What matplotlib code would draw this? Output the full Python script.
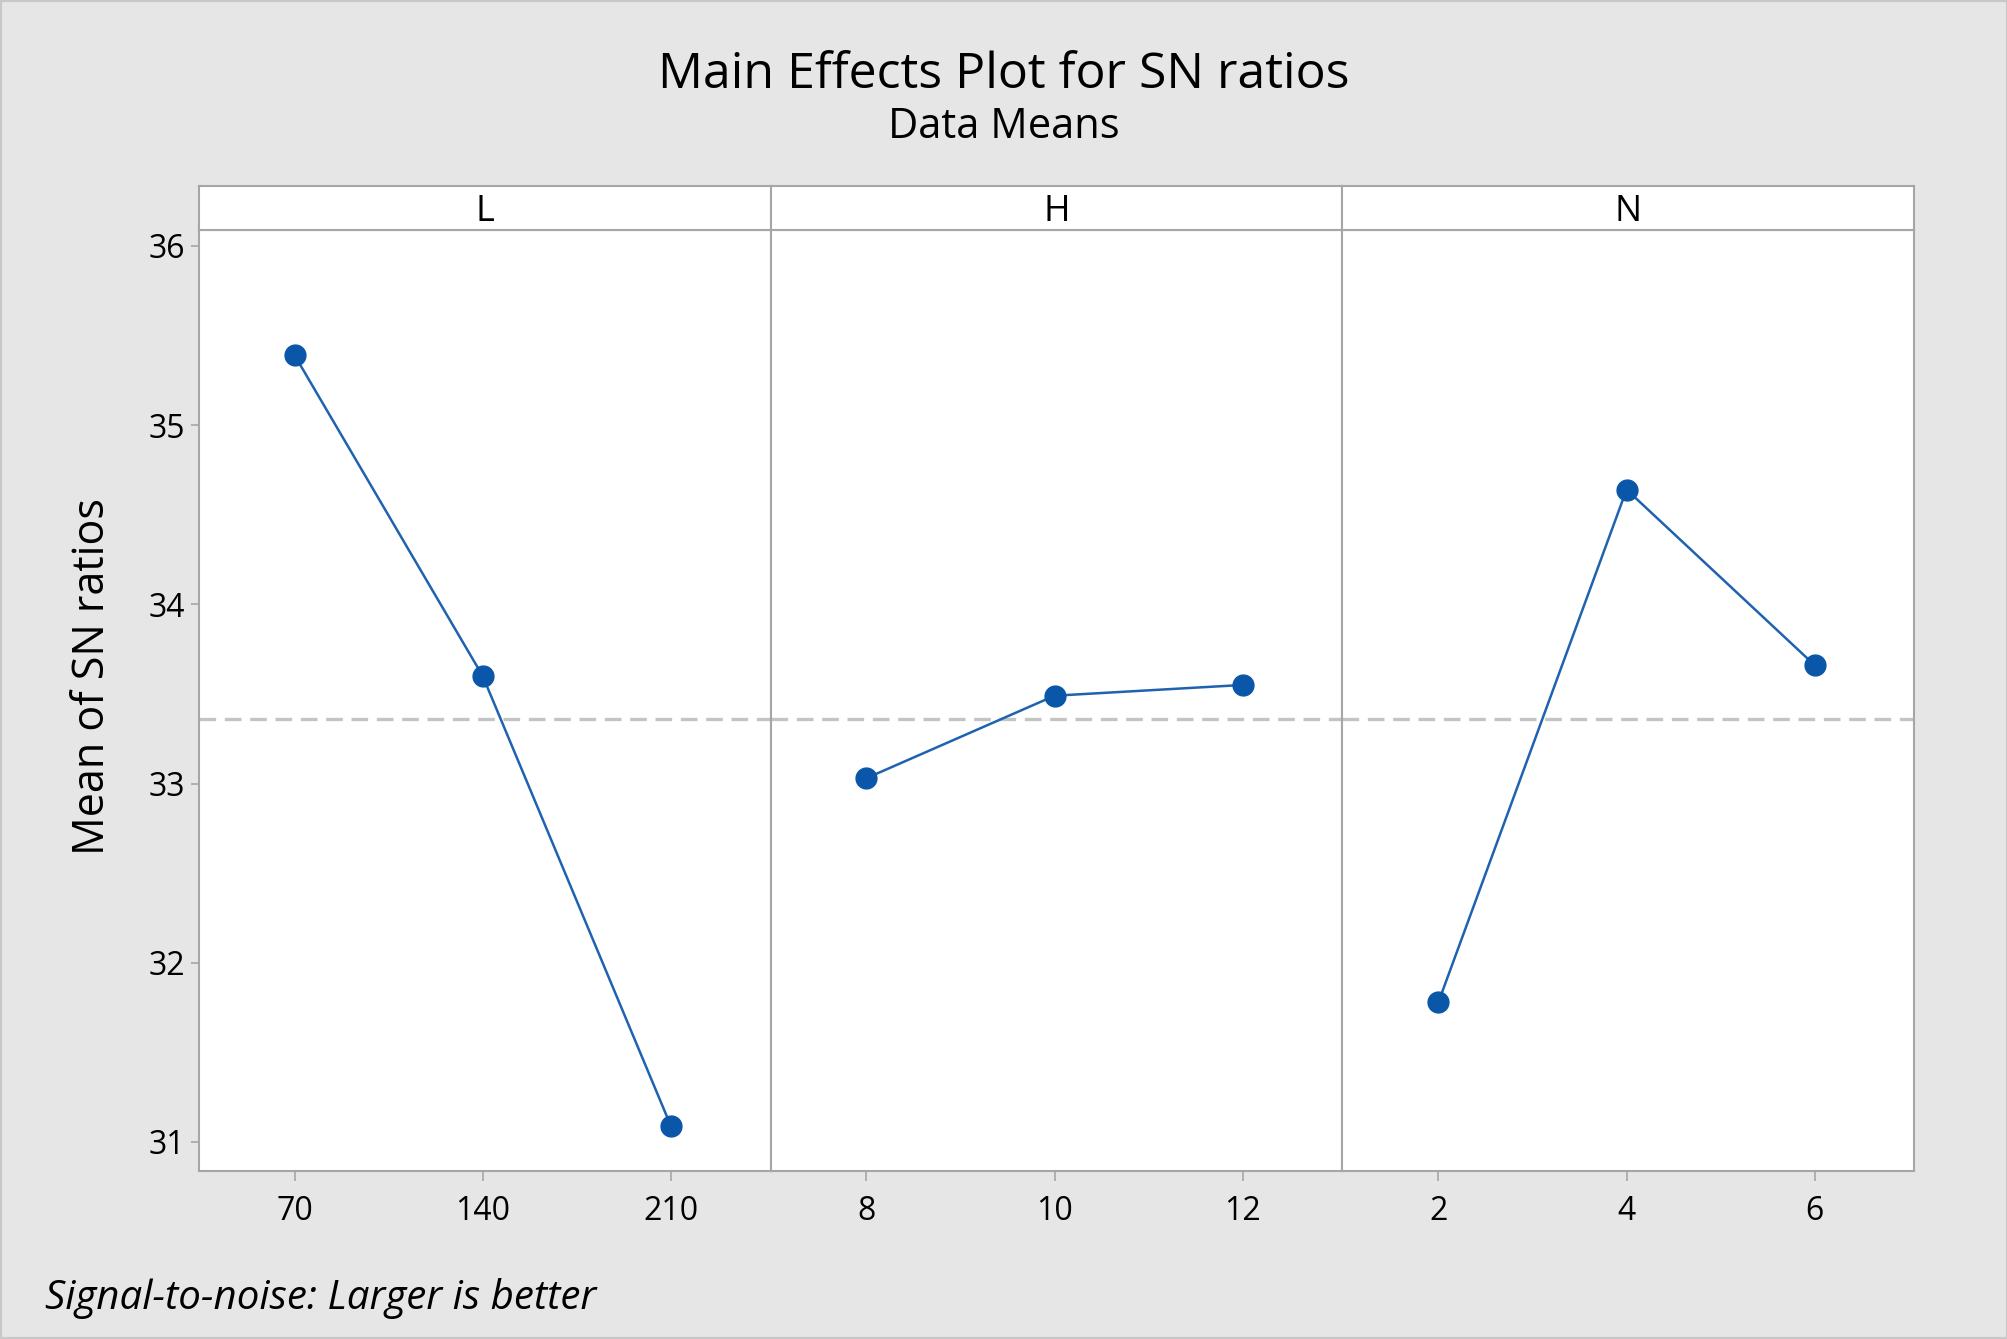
import matplotlib
matplotlib.use("Agg")
import matplotlib.pyplot as plt
from matplotlib.patches import Rectangle

# ---- data ----
factors = ["L", "H", "N"]
levels = [["70", "140", "210"], ["8", "10", "12"], ["2", "4", "6"]]
sn_means = [[35.39, 33.60, 31.09], [33.03, 33.49, 33.55], [31.78, 34.64, 33.66]]
overall_mean = 33.36
y_ticks = [31, 32, 33, 34, 35, 36]

title = "Main Effects Plot for SN ratios"
subtitle = "Data Means"
ylabel = "Mean of SN ratios"
footnote = "Signal-to-noise: Larger is better"

# ---- style ----
plt.rcParams['font.family'] = ['Open Sans', 'DejaVu Sans']
bg = "#E6E6E6"
blue = "#0A56A8"
line_blue = "#1F62B0"
spine_c = "#A6A6A6"

fig = plt.figure(figsize=(20.08, 13.39), dpi=100, facecolor=bg)

left, right = 0.0989, 0.9534
bottom, top_plot, top_head = 0.1252, 0.8279, 0.8614
w = (right - left) / 3

for i, fac in enumerate(factors):
    ax = fig.add_axes([left + i * w, bottom, w, top_plot - bottom])
    ax.set_facecolor("white")
    xs = list(range(len(levels[i])))
    ax.axhline(overall_mean, color="#C4C4C4", lw=2.4, ls=(0, (5, 2.6)), zorder=1)
    ax.plot(xs, sn_means[i], color=line_blue, lw=1.8, zorder=2)
    ax.plot(xs, sn_means[i], ls="none", marker="o", ms=15,
            markerfacecolor=blue, markeredgecolor=blue, zorder=3)
    ax.set_xlim(-0.51, 2.53)
    ax.set_ylim(30.836, 36.086)
    ax.set_xticks(xs)
    ax.set_xticklabels(levels[i])
    ax.tick_params(axis="x", length=7, width=1.2, color=spine_c, pad=10,
                   labelsize=23)
    if i == 0:
        ax.set_yticks(y_ticks)
        ax.tick_params(axis="y", length=6, width=1.2, color=spine_c, pad=4,
                       labelsize=23)
    else:
        ax.set_yticks([])
    for s in ax.spines.values():
        s.set_color(spine_c)
        s.set_linewidth(1.5)

    hax = fig.add_axes([left + i * w, top_plot, w, top_head - top_plot])
    hax.set_facecolor("white")
    hax.set_xticks([])
    hax.set_yticks([])
    for s in hax.spines.values():
        s.set_color(spine_c)
        s.set_linewidth(1.5)
    hax.text(0.5, 0.42, fac, ha="center", va="center", fontsize=26,
             transform=hax.transAxes)

fig.text(0.5, 0.944, title, ha="center", va="center", fontsize=36)
fig.text(0.5, 0.905, subtitle, ha="center", va="center", fontsize=30)
fig.text(0.046, 0.495, ylabel, ha="center", va="center", rotation=90,
         fontsize=31)
fig.text(0.0223, 0.030, footnote, ha="left", va="center", fontsize=29,
         style="italic")

fig.patches.append(Rectangle((0, 0), 1, 1, transform=fig.transFigure,
                             fill=False, edgecolor="#C8C8C8", lw=3))

fig.savefig("out.png", dpi=100, facecolor=bg)
